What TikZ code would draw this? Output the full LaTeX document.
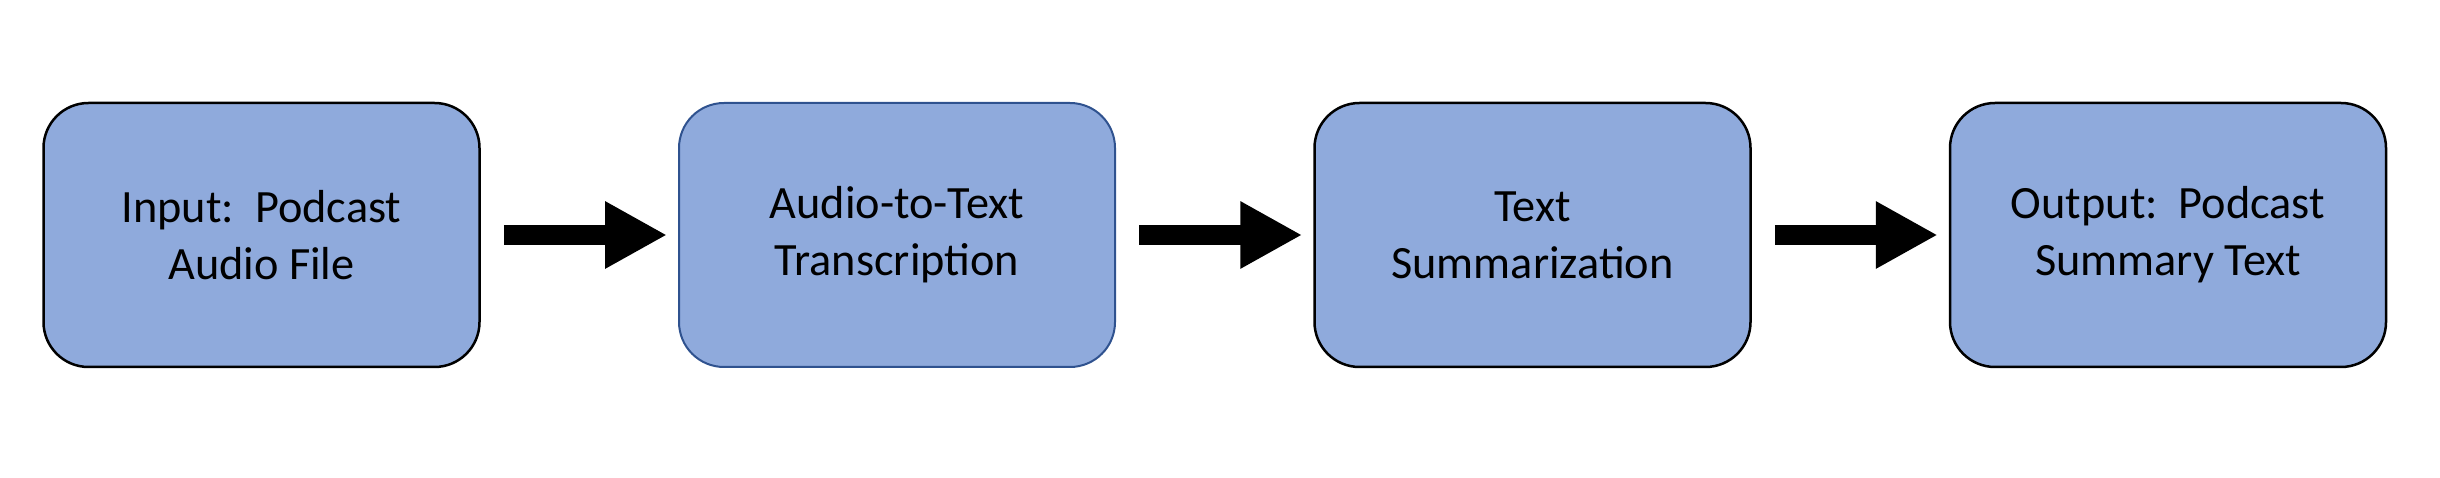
\documentclass[tikz,border=0pt]{standalone}
\usepackage{fontspec}
\setmainfont{Carlito}
\usetikzlibrary{arrows.meta}
\definecolor{boxfill}{RGB}{143,170,220}
\definecolor{boxblue}{RGB}{47,82,143}
\tikzset{
  stagebox/.style={draw=black, line width=2.5pt, fill=boxfill, rounded corners=45pt,
    minimum width=436pt, minimum height=264pt, inner sep=0pt, align=center,
    font=\fontsize{46.3}{57}\selectfont},
  flowarrow/.style={line width=20pt, -{Triangle[length=62pt,width=63pt]},
    shorten <=23pt, shorten >=11pt}
}
\begin{document}
\begin{tikzpicture}[x=1pt,y=1pt]
\useasboundingbox (0,0) rectangle (2440,478);
\node[stagebox] (b1) at (261.5,243) {Input:\ \ Podcast\\Audio File};
\node[stagebox, draw=boxblue, line width=2pt] (b2) at (897,243) {Audio-to-Text\\Transcription};
\node[stagebox] (b3) at (1532.5,243) {Text\\Summarization};
\node[stagebox] (b4) at (2168,243) {Output:\ \ Podcast\\Summary Text};
\draw[flowarrow] (b1.east) -- (b2.west);
\draw[flowarrow] (b2.east) -- (b3.west);
\draw[flowarrow] (b3.east) -- (b4.west);
\end{tikzpicture}
\end{document}
